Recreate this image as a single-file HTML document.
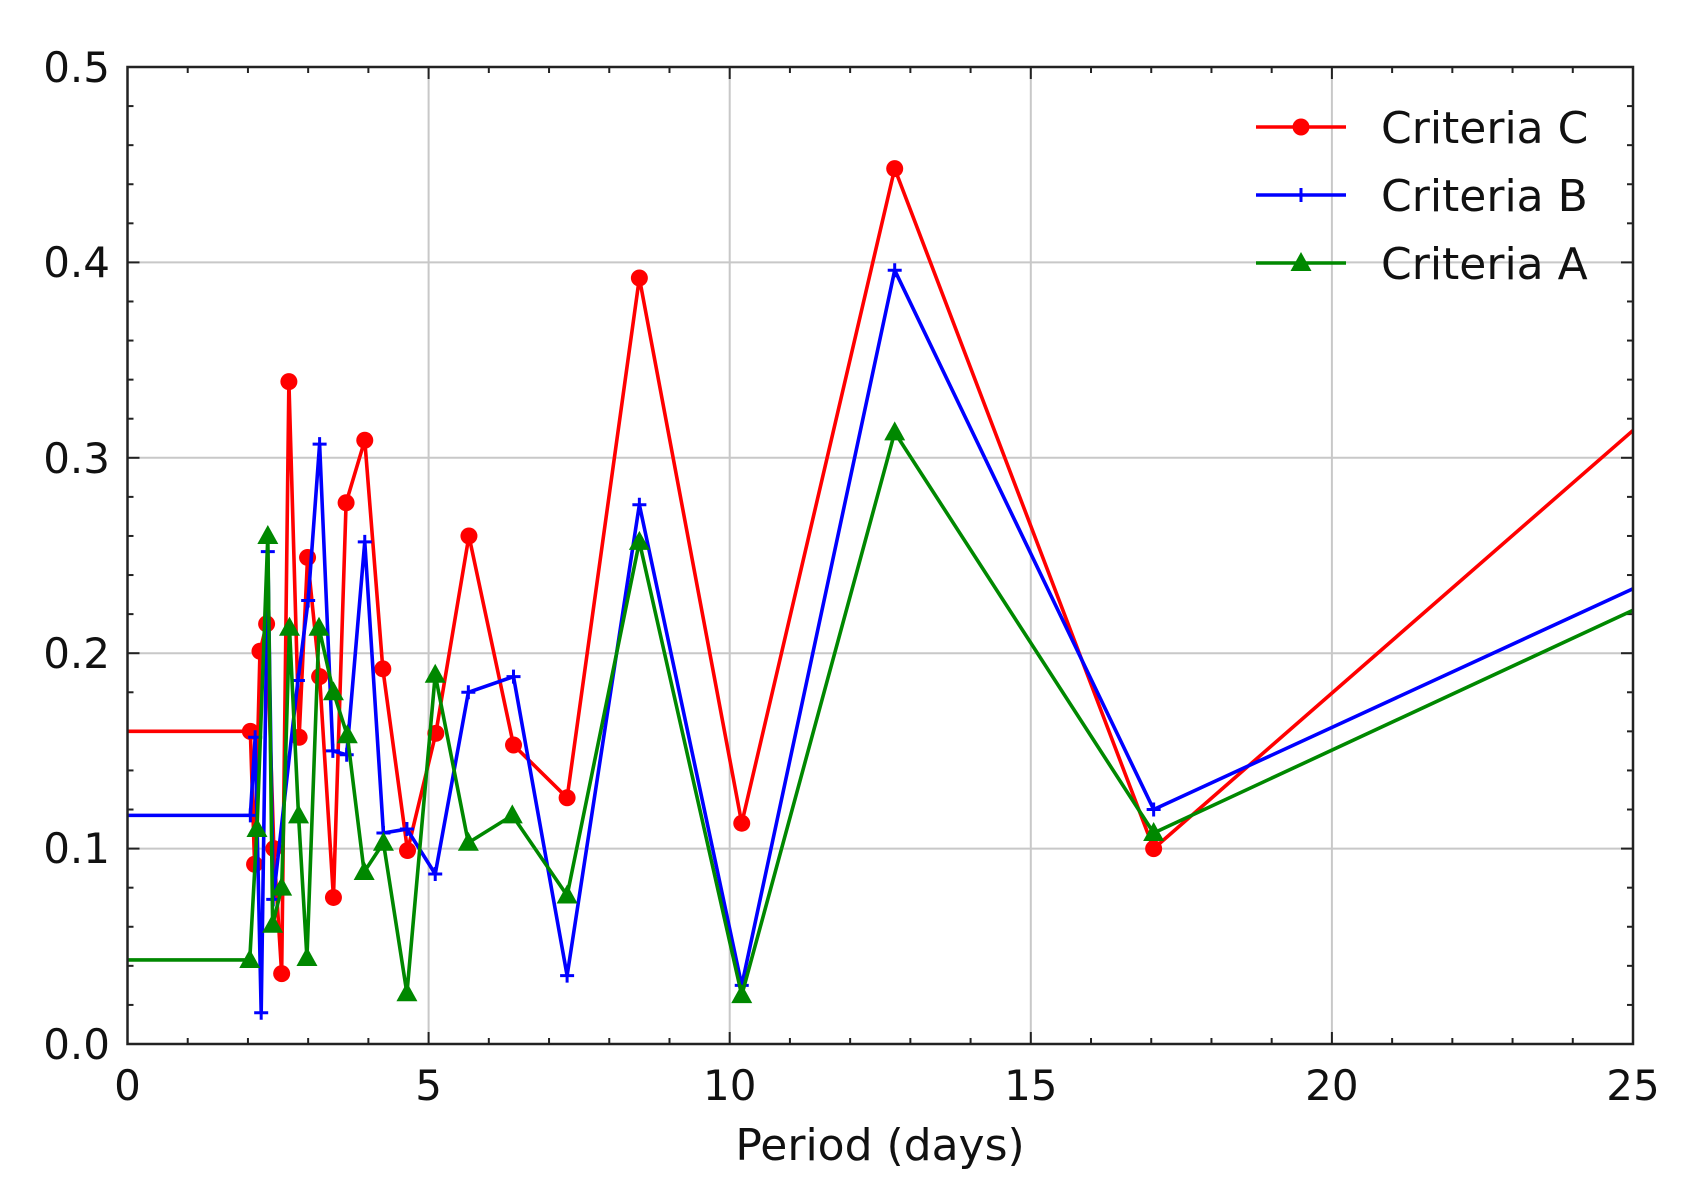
<!DOCTYPE html>
<html><head><meta charset="utf-8"><style>
html,body{margin:0;padding:0;background:#fff;}
svg{display:block;}
text{font-family:"DejaVu Sans","Liberation Sans",sans-serif;fill:#111;}
</style></head><body>
<svg id="s" width="1690" height="1193" viewBox="0 0 1690 1193" xmlns="http://www.w3.org/2000/svg">
<g id="grid" stroke="#c8c8c8" stroke-width="2"></g>
<g id="ticks" stroke="#222" stroke-width="2"></g>
<g id="series"></g>
<rect x="127.5" y="67" width="1505.5" height="977" fill="none" stroke="#222" stroke-width="2.5"/>
<g font-size="42" text-anchor="end">
<text x="110" y="1059">0.0</text>
<text x="110" y="863">0.1</text>
<text x="110" y="668">0.2</text>
<text x="110" y="473">0.3</text>
<text x="110" y="277">0.4</text>
<text x="110" y="82">0.5</text>
</g>
<g font-size="42" text-anchor="middle">
<text x="127.5" y="1100">0</text>
<text x="428.6" y="1100">5</text>
<text x="729.7" y="1100">10</text>
<text x="1030.8" y="1100">15</text>
<text x="1331.9" y="1100">20</text>
<text x="1633" y="1100">25</text>
<text x="880" y="1160" font-size="44">Period (days)</text>
</g>
<g font-size="44">
<text x="1381" y="143">Criteria C</text>
<text x="1381" y="211">Criteria B</text>
<text x="1381" y="279">Criteria A</text>
</g>
</svg>
<script>
const X=d=>127.5+d*60.22, Y=v=>1044-v*1954;
const NS="http://www.w3.org/2000/svg";
function el(p,t,a){const e=document.createElementNS(NS,t);for(const k in a)e.setAttribute(k,a[k]);p.appendChild(e);return e;}
const grid=document.getElementById('grid'),ticks=document.getElementById('ticks'),ser=document.getElementById('series');
for(let d=5;d<25;d+=5)el(grid,'line',{x1:X(d),x2:X(d),y1:67,y2:1044});
for(let v=0.1;v<0.5;v+=0.1)el(grid,'line',{x1:127.5,x2:1633,y1:Y(v),y2:Y(v)});
for(let d=0;d<=25;d++){const L=d%5==0?12:6;
 el(ticks,'line',{x1:X(d),x2:X(d),y1:1044,y2:1044-L});el(ticks,'line',{x1:X(d),x2:X(d),y1:67,y2:67+L});}
for(let i=0;i<=25;i++){const v=i*0.02,L=i%5==0?12:6;
 el(ticks,'line',{x1:127.5,x2:127.5+L,y1:Y(v),y2:Y(v)});el(ticks,'line',{x1:1633,x2:1633-L,y1:Y(v),y2:Y(v)});}
const C=[[2.04,.160],[2.11,.092],[2.2,.201],[2.31,.215],[2.43,.100],[2.56,.036],[2.68,.339],[2.85,.157],[2.99,.249],[3.19,.188],[3.42,.075],[3.63,.277],[3.94,.309],[4.24,.192],[4.65,.099],[5.12,.159],[5.67,.260],[6.41,.153],[7.30,.126],[8.5,.392],[10.2,.113],[12.74,.448],[17.04,.100]];
const B=[[2.04,.117],[2.12,.157],[2.22,.016],[2.33,.252],[2.42,.074],[2.83,.186],[3.0,.227],[3.19,.307],[3.41,.150],[3.64,.148],[3.94,.257],[4.25,.108],[4.64,.110],[5.11,.087],[5.66,.180],[6.41,.188],[7.30,.035],[8.5,.276],[10.2,.030],[12.74,.396],[17.04,.120]];
const A=[[2.03,.043],[2.15,.110],[2.33,.260],[2.41,.061],[2.56,.080],[2.69,.213],[2.84,.117],[2.98,.044],[3.18,.213],[3.42,.180],[3.65,.158],[3.93,.088],[4.25,.103],[4.64,.026],[5.11,.189],[5.66,.103],[6.39,.117],[7.30,.076],[8.5,.257],[10.2,.025],[12.74,.313],[17.04,.108]];
function draw(pts,st,en,col,mk){
 const all=[[0,st]].concat(pts,[[25,en]]);
 el(ser,'polyline',{points:all.map(p=>X(p[0])+','+Y(p[1])).join(' '),fill:'none',stroke:col,'stroke-width':3.6,'stroke-linejoin':'round'});
 pts.forEach(p=>mk(X(p[0]),Y(p[1])));
}
const circ=(x,y)=>el(ser,'circle',{cx:x,cy:y,r:8.5,fill:'#f00'});
const plus=(x,y)=>el(ser,'path',{d:`M${x-7},${y}H${x+7}M${x},${y-7}V${y+7}`,stroke:'#00f','stroke-width':3});
const tri=(x,y)=>el(ser,'path',{d:`M${x},${y-11}L${x+10.5},${y+8}L${x-10.5},${y+8}Z`,fill:'#080'});
draw(C,.160,.314,'#f00',circ);
draw(B,.117,.233,'#00f',plus);
draw(A,.043,.222,'#080',tri);
[[127,'#f00',circ],[195,'#00f',plus],[263,'#080',tri]].forEach(([y,c,m])=>{el(ser,'line',{x1:1256,x2:1346,y1:y,y2:y,stroke:c,'stroke-width':3.6});m(1301,y);});
</script>
</body></html>
